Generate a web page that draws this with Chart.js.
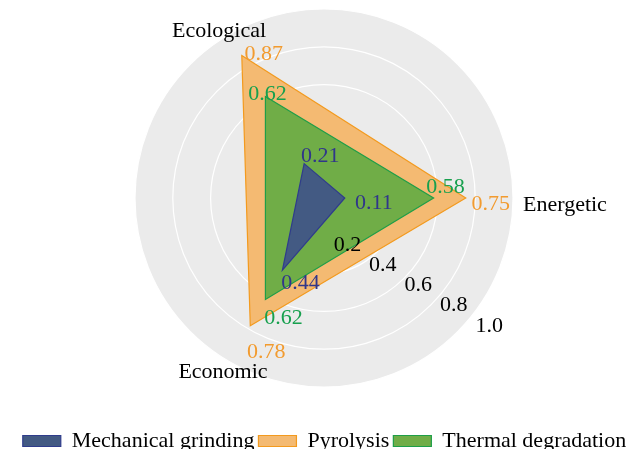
<!DOCTYPE html>
<html>
<head>
<meta charset="utf-8">
<script src="https://cdn.jsdelivr.net/npm/chart.js@4.4.1/dist/chart.umd.min.js"></script>
<style>
  html, body { margin: 0; padding: 0; background: #fff; overflow: hidden; }
  #wrap { width: 632px; height: 462px; }
</style>
</head>
<body>
<div id="wrap"><canvas id="radar" width="632" height="462"></canvas></div>
<script>
// ---- data ----
const categories = ["Ecological", "Energetic", "Economic"];
const seriesNames = ["Mechanical grinding", "Pyrolysis", "Thermal degradation"];
const mechanical = [0.21, 0.11, 0.44];
const pyrolysis = [0.87, 0.75, 0.78];
const thermal = [0.62, 0.58, 0.62];
const tickValues = [0.2, 0.4, 0.6, 0.8, 1.0];
const tickLabels = ["0.2", "0.4", "0.6", "0.8", "1.0"];

// ---- style ----
const FONT = "'Liberation Serif', 'Times New Roman', serif";
const fills = ["#435A83", "#F4BA72", "#70AD47"];
const borders = ["#2F3C8C", "#F39A1E", "#1E9E48"];
const labelColors = ["#30368A", "#F29B2F", "#17A04E"];
// drawing order: smaller shapes on top of bigger ones
const drawOrder = [0, 2, 1];
const TEXT_DY = 1.5; // 'middle' baseline sits a bit high for this font

// label offsets from each point (px), one row per series
const valueLabelOffsets = [
  [[16, -9], [29, 4], [18, 12]],
  [[22, -3], [25, 5], [16, 25]],
  [[2, -4], [12, -12], [18, 17]]
];
// category names: extra radius, shift, alignment
const categoryPlacement = [
  { r: 5, dx: -8, dy: 0, align: "center" },
  { r: 10, dx: 0, dy: 6, align: "left" },
  { r: 11, dx: -1, dy: 0, align: "center" }
];

// ======================
// custom text: value labels, category names, radial ticks
// ======================
const textPlugin = {
  id: "radarText",
  afterDatasetsDraw(chart) {
    const ctx = chart.ctx;
    const scale = chart.scales.r;
    ctx.save();
    ctx.font = "22px " + FONT;
    ctx.textBaseline = "middle";

    // value labels
    chart.data.datasets.forEach((ds, i) => {
      const meta = chart.getDatasetMeta(i);
      ctx.fillStyle = labelColors[i];
      ctx.textAlign = "center";
      meta.data.forEach((pt, j) => {
        const off = valueLabelOffsets[i][j];
        ctx.fillText(ds.data[j].toFixed(2), pt.x + off[0], pt.y + off[1] + TEXT_DY);
      });
    });

    // category names
    ctx.fillStyle = "#000";
    categories.forEach((name, j) => {
      const p = categoryPlacement[j];
      const pos = scale.getPointPosition(j, scale.drawingArea + p.r);
      ctx.textAlign = p.align;
      ctx.fillText(name, pos.x + p.dx, pos.y + p.dy + TEXT_DY);
    });

    // radial tick labels along a diagonal
    ctx.textAlign = "center";
    const ang = 29.8 * Math.PI / 180;
    tickValues.forEach((v, k) => {
      const d = scale.getDistanceFromCenterForValue(v) * 1.08;
      const x = scale.xCenter + d * Math.cos(ang) - 12;
      const y = scale.yCenter + d * Math.sin(ang) + 25;
      ctx.fillText(tickLabels[k], x, y + TEXT_DY);
    });
    ctx.restore();
  }
};

const seriesData = [mechanical, pyrolysis, thermal];

const chart = new Chart(document.getElementById("radar"), {
  type: "radar",
  data: {
    labels: categories,
    datasets: seriesNames.map((name, i) => ({
      label: name,
      data: seriesData[i],
      order: drawOrder[i],
      backgroundColor: fills[i],
      borderColor: borders[i],
      borderWidth: 1.2,
      fill: true,
      pointRadius: 0,
      pointHoverRadius: 0
    }))
  },
  options: {
    responsive: false,
    animation: false,
    layout: { padding: { top: 9, left: 17, right: 0, bottom: 0 } },
    elements: { line: { tension: 0 } },
    scales: {
      r: {
        min: 0,
        max: 1,
        startAngle: -30,
        backgroundColor: "#EBEBEB",
        angleLines: { display: false },
        grid: { circular: true, color: "#FFFFFF", lineWidth: 1.2 },
        ticks: { display: false, stepSize: 0.2 },
        pointLabels: { display: false }
      }
    },
    plugins: {
      tooltip: { enabled: false },
      legend: {
        position: "bottom",
        title: { display: true, text: "", font: { size: 10 }, padding: { top: 26, bottom: 0 } },
        labels: {
          boxWidth: 38,
          boxHeight: 11,
          padding: 4,
          color: "#000",
          font: { family: FONT, size: 22 },
          sort: (a, b) => a.datasetIndex - b.datasetIndex
        }
      }
    }
  },
  plugins: [textPlugin]
});
</script>
</body>
</html>
